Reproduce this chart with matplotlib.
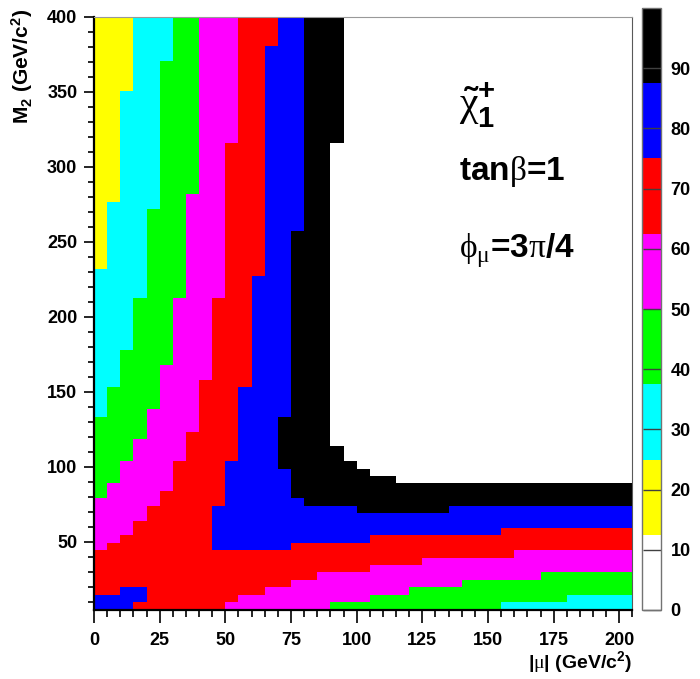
import numpy as np
import matplotlib
matplotlib.use('Agg')
import matplotlib.pyplot as plt
from matplotlib.colors import ListedColormap, Normalize
from matplotlib.ticker import MultipleLocator

plt.rcParams['font.family'] = ['Liberation Sans', 'DejaVu Sans']
plt.rcParams['font.weight'] = 'bold'
plt.rcParams['mathtext.fontset'] = 'custom'
plt.rcParams['mathtext.rm'] = 'Liberation Sans:bold'
plt.rcParams['mathtext.bf'] = 'Liberation Sans:bold'
plt.rcParams['mathtext.it'] = 'Liberation Sans:bold'
plt.rcParams['mathtext.sf'] = 'Liberation Serif:weight=normal'

# histogram binning: |mu| 0..205 in 41 bins, M2 5..400 in 80 bins
mu_edges = np.arange(0, 206, 5)
m2_edges = np.linspace(5, 400, 81)

# palette bands (0-12.5, 12.5-25, ..., 87.5-100) and the mass used for each
band_codes = ['W', 'Y', 'C', 'G', 'M', 'R', 'B', 'K']
band_colors = ['white', '#ffff00', '#00ffff', '#00ff00', '#ff00ff', '#ff0000', '#0000ff', '#000000']
band_mass = [6.25, 18.75, 31.25, 43.75, 56.25, 68.75, 81.25, 93.75]

# chargino mass band per M2 row, top row first.
# (number of rows, "band|mu_end ...") ; cells past the last entry are above 100 (not drawn)
rows = [
    (4, 'Y15 C30 G40 M55 R70 B80 K95'),
    (2, 'Y15 C30 G40 M55 R65 B80 K95'),
    (4, 'Y15 C25 G40 M55 R65 B80 K95'),
    (7, 'Y10 C25 G40 M55 R65 B80 K95'),
    (7, 'Y10 C25 G40 M50 R65 B80 K90'),
    (1, 'Y10 C25 G35 M50 R65 B80 K90'),
    (1, 'Y5 C25 G35 M50 R65 B80 K90'),
    (3, 'Y5 C20 G35 M50 R65 B80 K90'),
    (5, 'Y5 C20 G35 M50 R65 B75 K90'),
    (1, 'C20 G35 M50 R65 B75 K90'),
    (3, 'C20 G35 M50 R60 B75 K90'),
    (7, 'C15 G30 M45 R60 B75 K90'),
    (2, 'C10 G30 M45 R60 B75 K90'),
    (2, 'C10 G25 M45 R60 B75 K90'),
    (1, 'C10 G25 M40 R60 B75 K90'),
    (3, 'C5 G25 M40 R55 B75 K90'),
    (1, 'C5 G20 M40 R55 B75 K90'),
    (2, 'G20 M40 R55 B70 K90'),
    (1, 'G20 M35 R55 B70 K90'),
    (1, 'G15 M35 R55 B70 K90'),
    (2, 'G15 M35 R55 B70 K95'),
    (1, 'G10 M30 R50 B70 K100'),
    (1, 'G10 M30 R50 B75 K105'),
    (1, 'G10 M30 R50 B75 K115'),
    (1, 'G5 M30 R50 B75 K205'),
    (1, 'G5 M25 R50 B75 K205'),
    (1, 'M25 R50 B80 K205'),
    (1, 'M20 R45 B100 K135 B205'),
    (1, 'M20 R45 B205'),
    (1, 'M15 R45 B205'),
    (1, 'M15 R45 B155 R205'),
    (1, 'M10 R45 B105 R205'),
    (1, 'M5 R45 B75 R205'),
    (1, 'R160 M205'),
    (1, 'R125 M205'),
    (1, 'R105 M205'),
    (1, 'R85 M170 G205'),
    (1, 'R75 M140 G205'),
    (1, 'R10 B20 R65 M120 G205'),
    (1, 'B20 R55 M105 G180 C205'),
    (1, 'B15 R50 M90 G155 C205'),
]

mu_centres = 0.5 * (mu_edges[:-1] + mu_edges[1:])
grid = []
for count, spec in rows:
    line = np.full(len(mu_centres), np.nan)
    start = 0
    for item in spec.split():
        end = float(item[1:])
        sel = (mu_centres > start) & (mu_centres < end)
        line[sel] = band_mass[band_codes.index(item[0])]
        start = end
    for _ in range(count):
        grid.append(line)
grid = np.ma.masked_invalid(np.array(grid[::-1]))  # bottom row first

cmap = ListedColormap(band_colors)
cmap.set_bad('white')

fig = plt.figure(figsize=(7.0, 6.79), dpi=100)
ax = fig.add_axes([94 / 700, 1 - 609.5 / 679, 538.5 / 700, 593 / 679])
mesh = ax.pcolormesh(mu_edges, m2_edges, grid, cmap=cmap, norm=Normalize(0, 100))

ax.set_xlim(0, 205)
ax.set_ylim(5, 400)
ax.xaxis.set_major_locator(MultipleLocator(25))
ax.xaxis.set_minor_locator(MultipleLocator(5))
ax.yaxis.set_major_locator(MultipleLocator(50))
ax.yaxis.set_minor_locator(MultipleLocator(10))
ax.set_yticks([50, 100, 150, 200, 250, 300, 350, 400])
ax.tick_params(axis='both', which='both', direction='out', labelsize=13, width=1.2, top=False, right=False)
ax.tick_params(axis='x', which='major', length=9, pad=7)
ax.tick_params(axis='x', which='minor', length=5)
ax.tick_params(axis='y', which='major', length=7, pad=5)
ax.tick_params(axis='y', which='minor', length=4)
for lab in ax.get_xticklabels() + ax.get_yticklabels():
    lab.set_fontweight('bold')
ax.spines['left'].set_linewidth(1.6)
ax.spines['bottom'].set_linewidth(1.6)
ax.spines['top'].set_color('0.6')
ax.spines['right'].set_color('0.35')

fig.text(22 / 700, 1 - 9 / 679, r'M$_2$ (GeV/c$^2$)', rotation=90, ha='center', va='top',
         fontsize=15, fontweight='bold')
fig.text(632 / 700, 1 - 662 / 679, r'|$\mathsf{\mu}$| (GeV/c$^2$)', ha='right', va='center',
         fontsize=14, fontweight='bold')

ax.text(139, 341, r'$\tilde{\mathsf{\chi}}^{+}_{1}$', fontsize=30, va='center', ha='left')
ax.text(139, 297, r'tan$\mathsf{\beta}$=1', fontsize=24, fontweight='bold', va='center', ha='left')
ax.text(139, 244, r'$\mathsf{\phi}_{\mathsf{\mu}}$=3$\mathsf{\pi}$/4', fontsize=24,
        fontweight='bold', va='center', ha='left')

cax = fig.add_axes([642 / 700, 1 - 610 / 679, 19 / 700, 602 / 679])
cb = fig.colorbar(mesh, cax=cax, ticks=range(0, 100, 10))
cb.outline.set_edgecolor('0.45')
cb.outline.set_linewidth(1.0)
cax.tick_params(direction='in', length=13, width=1.0, color='0.25', labelsize=13, pad=7)
for lab in cax.get_yticklabels():
    lab.set_fontweight('bold')

fig.savefig('out.png', dpi=100)
